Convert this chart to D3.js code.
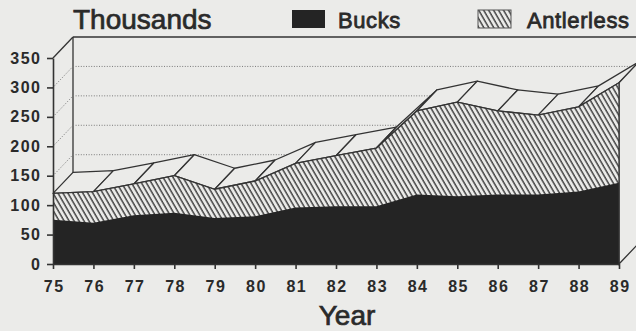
<!DOCTYPE html>
<html>
<head>
<meta charset="utf-8">
<script src="https://cdn.jsdelivr.net/npm/d3@7"></script>
<style>
  html, body { margin: 0; padding: 0; background: #ebebe9; }
  svg { display: block; }
</style>
</head>
<body>
<svg id="chart" width="636" height="331"></svg>
<script>
// ---- data ----
const years = [75, 76, 77, 78, 79, 80, 81, 82, 83, 84, 85, 86, 87, 88, 89];
const bucks = [75, 70, 83, 87, 78, 81, 96, 98, 98, 118, 115, 118, 118, 123, 138];
const antlerless = [45, 53, 53, 63, 49, 60, 75, 86, 99, 142, 160, 142, 135, 144, 170];
const yTicks = [0, 50, 100, 150, 200, 250, 300, 350];
const gridValues = [150, 200, 250, 300];
const seriesNames = ["Bucks", "Antlerless"];
const yTitle = "Thousands";
const xTitle = "Year";

const totals = years.map((_, i) => bucks[i] + antlerless[i]);

// ---- layout ----
const W = 636, H = 331;
const BG = "#ebebe9", INK = "#333333", BLACK = "#242424", TXT = "#2a2a2a";
const depth = { dx: 20, dy: -21 };
const SANS = "'Liberation Sans', Arial, Helvetica, sans-serif";

const x = d3.scaleLinear().domain([75, 89]).range([53, 619]);
const y = d3.scaleLinear().domain([0, 350]).range([264, 58]);

const svg = d3.select("#chart");

// hatch pattern
const defs = svg.append("defs");
const pat = defs.append("pattern")
  .attr("id", "hatch")
  .attr("patternUnits", "userSpaceOnUse")
  .attr("width", 4.3).attr("height", 10)
  .attr("patternTransform", "rotate(-30)");
pat.append("rect").attr("width", 4.3).attr("height", 10).attr("fill", BG);
pat.append("line").attr("x1", 1).attr("y1", 0).attr("x2", 1).attr("y2", 10)
  .attr("stroke", "#444").attr("stroke-width", 1.5);

svg.append("rect").attr("width", W).attr("height", H).attr("fill", BG);

// ---- back wall ----
const topBack = y(350) + depth.dy;
const leftBack = x(75) + depth.dx;
svg.append("line")
  .attr("x1", leftBack).attr("y1", topBack).attr("x2", W + 10).attr("y2", topBack)
  .attr("stroke", INK).attr("stroke-width", 1.4);
svg.append("line")
  .attr("x1", leftBack).attr("y1", topBack).attr("x2", leftBack).attr("y2", y(0) + depth.dy)
  .attr("stroke", INK).attr("stroke-width", 1.3);
svg.append("line")
  .attr("x1", x(75)).attr("y1", y(350)).attr("x2", leftBack).attr("y2", topBack)
  .attr("stroke", INK).attr("stroke-width", 1.3);

svg.append("g").selectAll("line.grid").data(gridValues).join("line")
  .attr("x1", leftBack).attr("x2", W + 10)
  .attr("y1", d => y(d) + depth.dy).attr("y2", d => y(d) + depth.dy)
  .attr("stroke", "#7a7a7a").attr("stroke-width", 1).attr("stroke-dasharray", "1,1.6");
svg.append("g").selectAll("line.diag").data(gridValues).join("line")
  .attr("x1", x(75)).attr("y1", d => y(d))
  .attr("x2", leftBack).attr("y2", d => y(d) + depth.dy)
  .attr("stroke", "#7a7a7a").attr("stroke-width", 1).attr("stroke-dasharray", "1,1.6");

// ---- top faces of the ribbon ----
const faces = d3.range(years.length - 1).map(i => [
  [x(years[i]), y(totals[i])],
  [x(years[i + 1]), y(totals[i + 1])],
  [x(years[i + 1]) + depth.dx, y(totals[i + 1]) + depth.dy],
  [x(years[i]) + depth.dx, y(totals[i]) + depth.dy]
]);
svg.append("g").selectAll("polygon").data(faces).join("polygon")
  .attr("points", d => d.map(p => p.join(",")).join(" "))
  .attr("fill", BG).attr("stroke", INK).attr("stroke-width", 1.3)
  .attr("stroke-linejoin", "round");

// right side face
const last = years.length - 1;
const side = [
  [x(years[last]), y(0)],
  [x(years[last]) + depth.dx, y(0) + depth.dy],
  [x(years[last]) + depth.dx, y(totals[last]) + depth.dy],
  [x(years[last]), y(totals[last])]
];
svg.append("polygon")
  .attr("points", side.map(p => p.join(",")).join(" "))
  .attr("fill", BG).attr("stroke", INK).attr("stroke-width", 1.3);

// ---- front face ----
const areaTotal = d3.area().x((d, i) => x(years[i])).y0(y(0)).y1((d) => y(d));
svg.append("path").datum(totals).attr("d", areaTotal)
  .attr("fill", "url(#hatch)");
svg.append("path").datum(bucks).attr("d", areaTotal)
  .attr("fill", BLACK);
svg.append("path").datum(totals)
  .attr("d", d3.line().x((d, i) => x(years[i])).y(d => y(d)))
  .attr("fill", "none").attr("stroke", INK).attr("stroke-width", 1.3);
svg.append("line")
  .attr("x1", x(89)).attr("x2", x(89)).attr("y1", y(0)).attr("y2", y(totals[last]))
  .attr("stroke", INK).attr("stroke-width", 1.3);

// ---- axes ----
const gy = svg.append("g").attr("transform", `translate(${x(75)},0)`)
  .call(d3.axisLeft(y).tickValues(yTicks).tickSize(6).tickSizeOuter(0).tickPadding(5.5));
const gx = svg.append("g").attr("transform", `translate(0,${y(0)})`)
  .call(d3.axisBottom(x).tickValues(years).tickFormat(d3.format("d")).tickSize(5).tickSizeOuter(0).tickPadding(12));
[gy, gx].forEach(g => {
  g.select(".domain").attr("stroke", INK).attr("stroke-width", 1.6);
  g.selectAll(".tick line").attr("stroke", INK).attr("stroke-width", 1.6);
  g.selectAll(".tick text")
    .attr("fill", TXT)
    .style("font-family", SANS).style("font-weight", "bold").style("font-size", "16px")
    .style("letter-spacing", "1.5px");
});
gx.selectAll(".tick text").attr("dx", 0.75);

// ---- titles ----
svg.append("text").attr("x", 73).attr("y", 28.5).text(yTitle)
  .attr("fill", TXT).attr("stroke", TXT).attr("stroke-width", 0.7)
  .style("font-family", SANS).style("font-size", "28px");
svg.append("text").attr("x", 347).attr("y", 325).attr("text-anchor", "middle").text(xTitle)
  .attr("fill", TXT).attr("stroke", TXT).attr("stroke-width", 0.7)
  .style("font-family", SANS).style("font-size", "28px");

// ---- legend ----
const legend = [
  { name: seriesNames[0], fill: BLACK, stroke: "none", rx: 292, tx: 338 },
  { name: seriesNames[1], fill: "url(#hatch)", stroke: "#555", rx: 478, tx: 527 }
];
const lg = svg.append("g");
lg.selectAll("rect").data(legend).join("rect")
  .attr("x", d => d.rx).attr("y", 10).attr("width", 33).attr("height", 18)
  .attr("fill", d => d.fill).attr("stroke", d => d.stroke).attr("stroke-width", 1);
lg.selectAll("text").data(legend).join("text")
  .attr("x", d => d.tx).attr("y", 27.5).text(d => d.name)
  .attr("fill", TXT).attr("stroke", TXT).attr("stroke-width", 0.8)
  .style("font-family", SANS).style("font-size", "22px")
  .style("letter-spacing", "0.6px");
</script>
</body>
</html>
